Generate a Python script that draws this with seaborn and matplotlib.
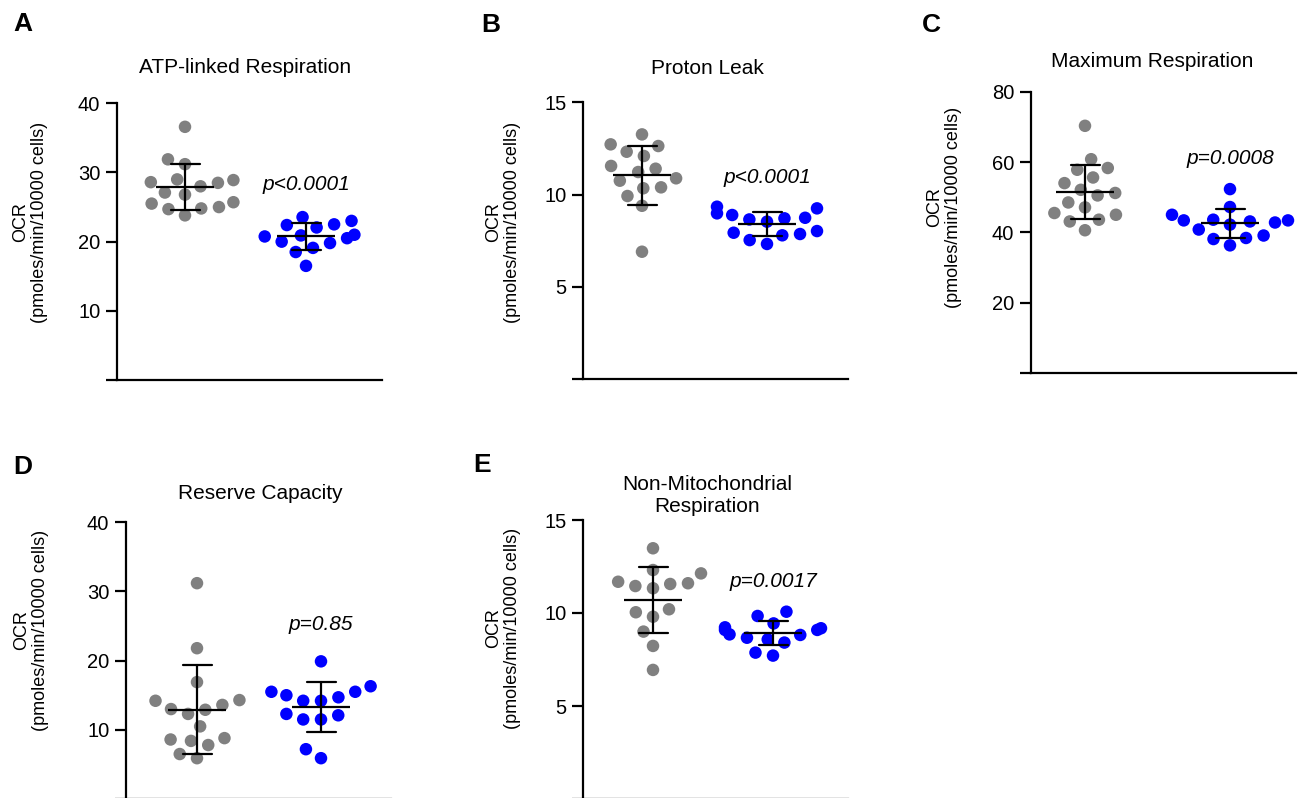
import numpy as np
import pandas as pd
import matplotlib
matplotlib.use("Agg")
import matplotlib.pyplot as plt
import seaborn as sns

# ---------------- data ----------------
groups = ["Control", "Treated"]

atp_ctrl = [29.0, 24.7, 31.9, 28.9, 27.1, 25.5, 36.6, 31.2, 28.6, 26.8, 24.8, 28.0, 25.0, 28.5, 25.7, 23.8]
atp_trt = [21.0, 23.0, 19.8, 23.55, 20.9, 19.1, 16.5, 22.4, 20.5, 18.5, 22.5, 20.75, 22.05, 20.0]

leak_ctrl = [12.63, 11.55, 10.88, 13.26, 12.09, 11.40, 10.75, 9.92, 6.90, 12.32, 11.22, 10.39, 9.39, 12.72, 10.34]
leak_trt = [8.89, 7.93, 9.25, 8.53, 7.32, 8.65, 7.86, 9.34, 8.71, 7.53, 8.74, 7.79, 8.98, 8.02]

max_ctrl = [55.6, 52.1, 48.5, 45.0, 40.6, 57.8, 50.5, 45.5, 70.3, 60.8, 51.2, 43.1, 58.3, 54.0, 47.1, 43.6]
max_trt = [43.4, 43.1, 38.1, 45.0, 40.8, 52.3, 43.4, 38.4, 47.2, 42.2, 39.1, 43.6, 36.3, 42.8]

res_ctrl = [14.3, 12.9, 7.8, 5.9, 31.2, 21.8, 16.9, 14.2, 12.3, 10.5, 8.8, 13.0, 8.4, 6.5, 13.6, 8.6]
res_trt = [16.3, 14.2, 15.0, 11.5, 14.2, 12.3, 5.9, 19.9, 15.5, 11.5, 7.2, 15.5, 12.1, 14.7]

nonmito_ctrl = [12.31, 11.56, 11.33, 10.04, 13.48, 11.60, 9.80, 9.00, 8.23, 6.94, 11.68, 10.20, 12.13, 11.45]
nonmito_trt = [9.09, 8.85, 9.84, 9.18, 8.41, 7.71, 8.82, 9.23, 8.58, 7.87, 10.07, 9.44, 8.67, 9.09]

panel_letters = ["A", "B", "C", "D", "E"]
titles = ["ATP-linked Respiration", "Proton Leak", "Maximum Respiration",
          "Reserve Capacity", "Non-Mitochondrial\nRespiration"]
p_labels = ["p<0.0001", "p<0.0001", "p=0.0008", "p=0.85", "p=0.0017"]
ylims = [40, 15, 80, 40, 15]
ytick_steps = [10, 5, 20, 10, 5]
y_label = "OCR\n(pmoles/min/10000 cells)"

ctrl_sets = [atp_ctrl, leak_ctrl, max_ctrl, res_ctrl, nonmito_ctrl]
trt_sets = [atp_trt, leak_trt, max_trt, res_trt, nonmito_trt]

# ---------------- styling / layout ----------------
GRAY = "#808080"
BLUE = "#0000FF"
W, H = 1304, 798

sns.set_theme(style="ticks")
plt.rcParams["font.family"] = ["Liberation Sans", "DejaVu Sans"]

fig = plt.figure(figsize=(W / 100, H / 100), dpi=100)

# pixel layout: axis x, top px, zero px, group spacing px, left gap px, axes width px
layout = [
    dict(x=117, top=103.3, zero=380, sp=121, gap=68, w=265),
    dict(x=583, top=102.3, zero=379, sp=125, gap=59, w=265),
    dict(x=1031, top=91.7, zero=373, sp=145, gap=54, w=265),
    dict(x=126, top=522.3, zero=799, sp=124, gap=71, w=265),
    dict(x=583, top=520, zero=799, sp=120, gap=70, w=265),
]
# annotation positions (title: baseline of last line)
title_pos = [(245, 73), (707, 74), (1152, 67), (260, 499), (707, 512)]
letter_pos = [(13, 31), (481, 32), (922, 32), (13, 474), (473, 472)]
ylabel_pos = [(30, 222), (503, 222), (944, 207), (31, 630), (503, 628)]
p_ypos = [28.2, 10.95, 60.9, 25.2, 11.67]

for i in range(5):
    L = layout[i]
    ax = fig.add_axes([L["x"] / W, 1 - L["zero"] / H, L["w"] / W, (L["zero"] - L["top"]) / H])
    ctrl, trt = ctrl_sets[i], trt_sets[i]
    df = pd.DataFrame({
        "group": [groups[0]] * len(ctrl) + [groups[1]] * len(trt),
        "value": list(ctrl) + list(trt),
    })
    # transparent edge widens the swarm spacing (GraphPad-like spread)
    sns.swarmplot(data=df, x="group", y="value", hue="group", order=groups,
                  hue_order=groups, palette=[GRAY, BLUE], size=9,
                  edgecolor=(1, 1, 1, 0), linewidth=3.2,
                  legend=False, ax=ax, zorder=2)
    sns.pointplot(data=df, x="group", y="value", order=groups, errorbar="sd",
                  capsize=29 / L["sp"], color="black", markers="_",
                  markersize=42, markeredgewidth=1.6, linestyle="none",
                  err_kws={"linewidth": 1.6}, ax=ax, zorder=3)

    ax.set_xlim(-L["gap"] / L["sp"], (L["w"] - L["gap"]) / L["sp"])
    ax.set_ylim(0, ylims[i])
    ticks = list(range(0, ylims[i] + 1, ytick_steps[i]))
    ax.set_yticks(ticks)
    ax.set_yticklabels([""] + [str(t) for t in ticks[1:]], fontsize=14.5)
    ax.set_xticks([])
    ax.set_xlabel("")
    ax.set_ylabel("")
    for s in ["top", "right"]:
        ax.spines[s].set_visible(False)
    for s in ["left", "bottom"]:
        ax.spines[s].set_color("black")
        ax.spines[s].set_linewidth(1.6)
    ax.tick_params(axis="y", length=8, width=1.6, color="black", pad=4, labelcolor="black")
    ax.set_facecolor("white")

    ax.text(1, p_ypos[i], p_labels[i], ha="center", va="center",
            style="italic", fontsize=15, color="black")

    tx, ty = title_pos[i]
    fig.text(tx / W, 1 - ty / H, titles[i], ha="center", va="baseline",
             fontsize=15, color="black", multialignment="center", linespacing=1.2)
    lx, ly = letter_pos[i]
    fig.text(lx / W, 1 - ly / H, panel_letters[i], ha="left", va="baseline",
             fontsize=19, fontweight="bold", color="black")
    yx, yy = ylabel_pos[i]
    fig.text(yx / W, 1 - yy / H, y_label, rotation=90, ha="center", va="center",
             multialignment="center", fontsize=13, color="black")

fig.savefig("out.png", dpi=100, facecolor="white")
